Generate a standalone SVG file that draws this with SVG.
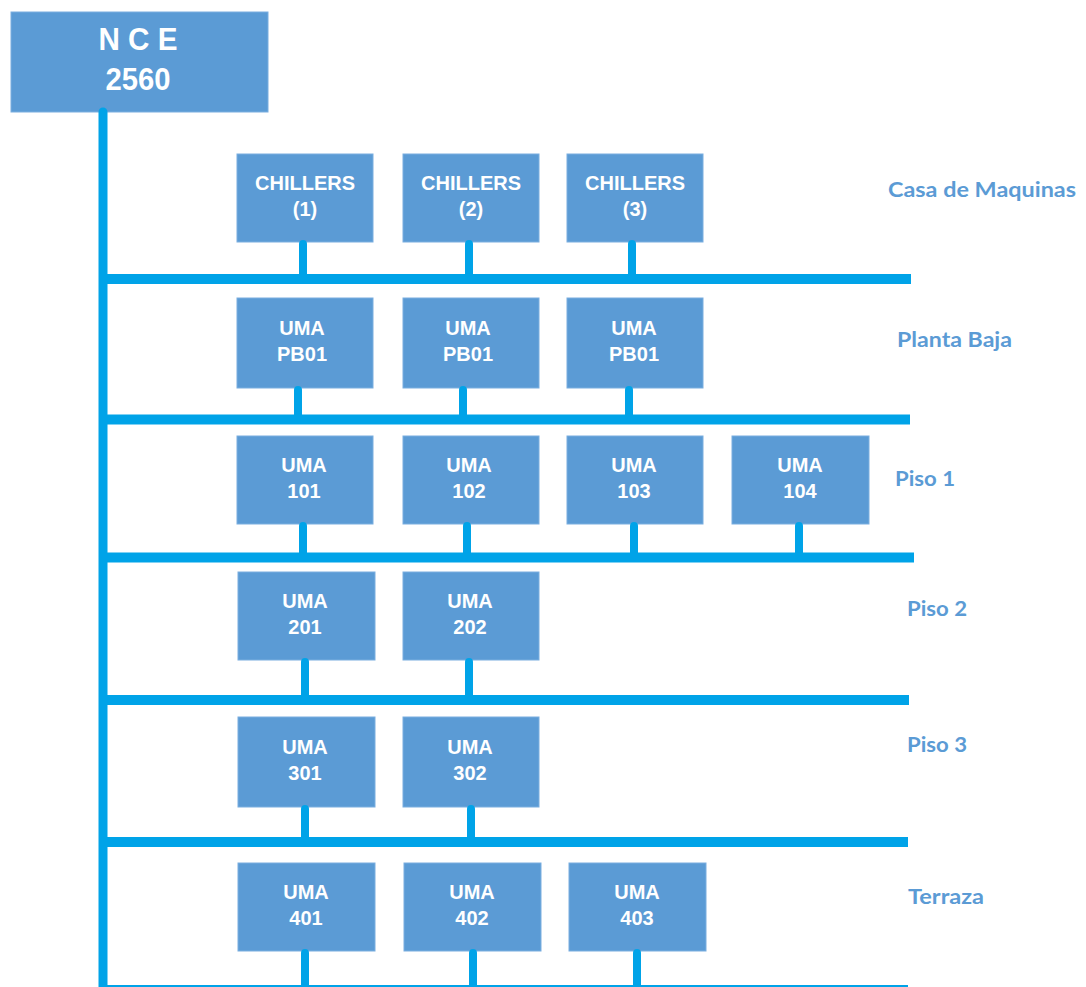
<svg xmlns="http://www.w3.org/2000/svg" width="1086" height="987" viewBox="0 0 1086 987">
<style>
.box{fill:#5B9BD5;stroke:#7AAEDF;stroke-width:1}
.bt{font-family:"Liberation Sans",Arial,sans-serif;font-weight:bold;font-size:20px;fill:#FFFFFF;text-anchor:middle}
.nt{font-family:"Liberation Sans",Arial,sans-serif;font-weight:bold;font-size:32px;fill:#FFFFFF;text-anchor:middle}
.lbl{font-family:Lato,"Open Sans",sans-serif;font-weight:bold;font-size:21px;fill:#5B9BD5}
.bus{stroke:#00A3E8;stroke-width:10;fill:none}
.stub{stroke:#00A3E8;stroke-width:8;stroke-linecap:round;fill:none}
.vbus{stroke:#00A3E8;stroke-width:9;stroke-linecap:round;fill:none}
</style>
<rect width="1086" height="987" fill="#FFFFFF"/>
<g id="nodes">
<g id="nce"><rect class="box" x="11" y="12" width="257" height="100"/><text class="nt" x="138" y="50" textLength="79" lengthAdjust="spacingAndGlyphs">N C E</text><text class="nt" x="138" y="90" textLength="65" lengthAdjust="spacingAndGlyphs">2560</text></g>
<g id="chillers1"><rect class="box" x="237" y="154" width="136" height="88"/><text class="bt" x="305" y="190">CHILLERS</text><text class="bt" x="305" y="216">(1)</text></g>
<g id="chillers2"><rect class="box" x="403" y="154" width="136" height="88"/><text class="bt" x="471" y="190">CHILLERS</text><text class="bt" x="471" y="216">(2)</text></g>
<g id="chillers3"><rect class="box" x="567" y="154" width="136" height="88"/><text class="bt" x="635" y="190">CHILLERS</text><text class="bt" x="635" y="216">(3)</text></g>
<g id="pb01a"><rect class="box" x="237" y="298" width="136" height="90"/><text class="bt" x="302" y="335">UMA</text><text class="bt" x="302" y="361">PB01</text></g>
<g id="pb01b"><rect class="box" x="403" y="298" width="136" height="90"/><text class="bt" x="468" y="335">UMA</text><text class="bt" x="468" y="361">PB01</text></g>
<g id="pb01c"><rect class="box" x="567" y="298" width="136" height="90"/><text class="bt" x="634" y="335">UMA</text><text class="bt" x="634" y="361">PB01</text></g>
<g id="uma101"><rect class="box" x="237" y="436" width="136" height="88"/><text class="bt" x="304" y="472">UMA</text><text class="bt" x="304" y="498">101</text></g>
<g id="uma102"><rect class="box" x="403" y="436" width="136" height="88"/><text class="bt" x="469" y="472">UMA</text><text class="bt" x="469" y="498">102</text></g>
<g id="uma103"><rect class="box" x="567" y="436" width="136" height="88"/><text class="bt" x="634" y="472">UMA</text><text class="bt" x="634" y="498">103</text></g>
<g id="uma104"><rect class="box" x="732" y="436" width="137" height="88"/><text class="bt" x="800" y="472">UMA</text><text class="bt" x="800" y="498">104</text></g>
<g id="uma201"><rect class="box" x="238" y="572" width="137" height="88"/><text class="bt" x="305" y="608">UMA</text><text class="bt" x="305" y="634">201</text></g>
<g id="uma202"><rect class="box" x="403" y="572" width="136" height="88"/><text class="bt" x="470" y="608">UMA</text><text class="bt" x="470" y="634">202</text></g>
<g id="uma301"><rect class="box" x="238" y="717" width="137" height="90"/><text class="bt" x="305" y="754">UMA</text><text class="bt" x="305" y="780">301</text></g>
<g id="uma302"><rect class="box" x="403" y="717" width="136" height="90"/><text class="bt" x="470" y="754">UMA</text><text class="bt" x="470" y="780">302</text></g>
<g id="uma401"><rect class="box" x="238" y="863" width="137" height="88"/><text class="bt" x="306" y="899">UMA</text><text class="bt" x="306" y="925">401</text></g>
<g id="uma402"><rect class="box" x="404" y="863" width="137" height="88"/><text class="bt" x="472" y="899">UMA</text><text class="bt" x="472" y="925">402</text></g>
<g id="uma403"><rect class="box" x="569" y="863" width="137" height="88"/><text class="bt" x="637" y="899">UMA</text><text class="bt" x="637" y="925">403</text></g>
</g>
<g id="labels">
<text class="lbl" x="888" y="197" textLength="188" lengthAdjust="spacingAndGlyphs">Casa de Maquinas</text>
<text class="lbl" x="897" y="347" textLength="115" lengthAdjust="spacingAndGlyphs">Planta Baja</text>
<text class="lbl" x="895" y="486" textLength="60" lengthAdjust="spacingAndGlyphs">Piso 1</text>
<text class="lbl" x="907" y="616" textLength="60" lengthAdjust="spacingAndGlyphs">Piso 2</text>
<text class="lbl" x="907" y="752" textLength="60" lengthAdjust="spacingAndGlyphs">Piso 3</text>
<text class="lbl" x="908" y="904" textLength="76" lengthAdjust="spacingAndGlyphs">Terraza</text>
</g>
<g id="connectors">
<line class="vbus" x1="103" y1="112" x2="103" y2="995"/>
<line class="bus" x1="103" y1="279" x2="911" y2="279"/>
<line class="bus" x1="103" y1="419.5" x2="910" y2="419.5"/>
<line class="bus" x1="103" y1="557.5" x2="914" y2="557.5"/>
<line class="bus" x1="103" y1="700" x2="909" y2="700"/>
<line class="bus" x1="103" y1="842" x2="908" y2="842"/>
<line class="bus" x1="103" y1="990" x2="908" y2="990"/>
<line class="stub" x1="303" y1="244" x2="303" y2="279"/>
<line class="stub" x1="469" y1="244" x2="469" y2="279"/>
<line class="stub" x1="632" y1="244" x2="632" y2="279"/>
<line class="stub" x1="298" y1="390" x2="298" y2="419"/>
<line class="stub" x1="463" y1="390" x2="463" y2="419"/>
<line class="stub" x1="629" y1="390" x2="629" y2="419"/>
<line class="stub" x1="303" y1="526" x2="303" y2="557"/>
<line class="stub" x1="467" y1="526" x2="467" y2="557"/>
<line class="stub" x1="634" y1="526" x2="634" y2="557"/>
<line class="stub" x1="799" y1="526" x2="799" y2="557"/>
<line class="stub" x1="305" y1="662" x2="305" y2="700"/>
<line class="stub" x1="469" y1="662" x2="469" y2="700"/>
<line class="stub" x1="305" y1="809" x2="305" y2="842"/>
<line class="stub" x1="471" y1="809" x2="471" y2="842"/>
<line class="stub" x1="305" y1="953" x2="305" y2="990"/>
<line class="stub" x1="473" y1="953" x2="473" y2="990"/>
<line class="stub" x1="637" y1="953" x2="637" y2="990"/>
</g>
</svg>
